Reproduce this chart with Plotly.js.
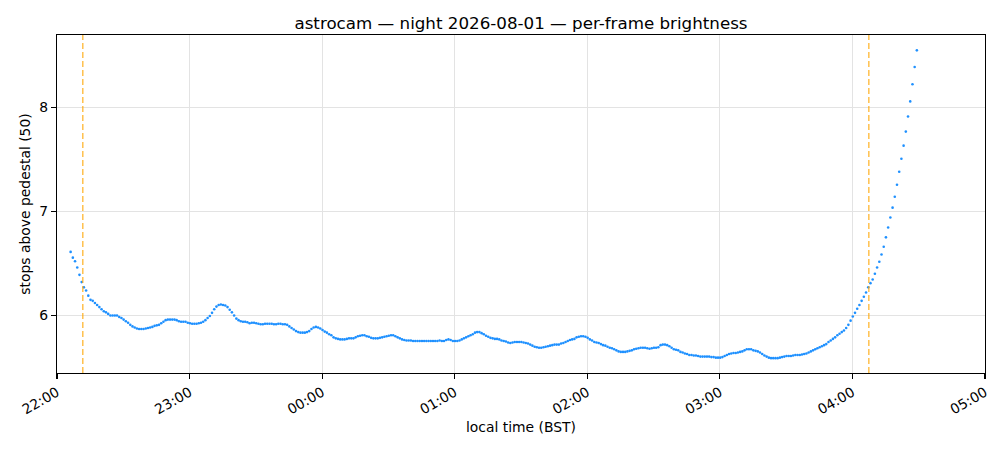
<!DOCTYPE html>
<html>
<head>
<meta charset="utf-8">
<script src="https://cdn.plot.ly/plotly-3.0.1.min.js"></script>
<style>
  html, body { margin: 0; padding: 0; background: #fff; }
  #chart { width: 1000px; height: 450px; }
</style>
</head>
<body>
<div id="chart"></div>
<script>
// astrocam per-frame brightness, one frame per minute
var firstFrame = '2026-08-01 22:06:10'
var frameStepSec = 60

// stops above pedestal
var stops = [
  6.61, 6.555, 6.52, 6.46, 6.39, 6.32, 6.27, 6.24, 6.19, 6.15,
  6.14, 6.12, 6.10, 6.08, 6.06, 6.04, 6.03, 6.015, 6.00, 6.00,
  6.00, 6.00, 5.985, 5.975, 5.96, 5.945, 5.93, 5.91, 5.895, 5.885,
  5.875, 5.87, 5.87, 5.87, 5.875, 5.88, 5.885, 5.89, 5.90, 5.905,
  5.91, 5.925, 5.94, 5.955, 5.96, 5.96, 5.96, 5.96, 5.955, 5.945,
  5.94, 5.94, 5.94, 5.93, 5.925, 5.92, 5.92, 5.92, 5.925, 5.93,
  5.94, 5.955, 5.975, 5.995, 6.025, 6.06, 6.085, 6.10, 6.105, 6.10,
  6.095, 6.08, 6.055, 6.03, 6.00, 5.97, 5.955, 5.945, 5.94, 5.94,
  5.935, 5.925, 5.93, 5.93, 5.925, 5.92, 5.915, 5.915, 5.92, 5.92,
  5.92, 5.92, 5.915, 5.915, 5.92, 5.92, 5.915, 5.915, 5.91, 5.895,
  5.88, 5.865, 5.85, 5.84, 5.835, 5.835, 5.835, 5.84, 5.85, 5.87,
  5.885, 5.89, 5.885, 5.875, 5.86, 5.845, 5.835, 5.82, 5.81, 5.79,
  5.78, 5.775, 5.77, 5.77, 5.77, 5.775, 5.78, 5.78, 5.78, 5.79,
  5.80, 5.805, 5.81, 5.81, 5.80, 5.795, 5.785, 5.78, 5.78, 5.78,
  5.785, 5.79, 5.795, 5.80, 5.805, 5.81, 5.81, 5.80, 5.79, 5.78,
  5.77, 5.765, 5.76, 5.76, 5.76, 5.755, 5.755, 5.755, 5.755, 5.755,
  5.755, 5.755, 5.755, 5.755, 5.755, 5.755, 5.755, 5.76, 5.755, 5.755,
  5.765, 5.77, 5.765, 5.755, 5.755, 5.755, 5.76, 5.77, 5.78, 5.79,
  5.80, 5.81, 5.82, 5.835, 5.84, 5.84, 5.83, 5.82, 5.805, 5.795,
  5.785, 5.78, 5.775, 5.775, 5.77, 5.76, 5.755, 5.75, 5.74, 5.735,
  5.74, 5.745, 5.745, 5.745, 5.745, 5.74, 5.735, 5.73, 5.72, 5.71,
  5.70, 5.695, 5.69, 5.69, 5.695, 5.70, 5.705, 5.71, 5.715, 5.72,
  5.72, 5.72, 5.73, 5.735, 5.745, 5.755, 5.765, 5.77, 5.775, 5.79,
  5.795, 5.80, 5.80, 5.795, 5.785, 5.77, 5.76, 5.745, 5.74, 5.735,
  5.725, 5.715, 5.71, 5.70, 5.69, 5.685, 5.675, 5.665, 5.655, 5.65,
  5.65, 5.65, 5.655, 5.66, 5.665, 5.675, 5.68, 5.685, 5.69, 5.69,
  5.69, 5.685, 5.68, 5.685, 5.69, 5.69, 5.695, 5.715, 5.72, 5.72,
  5.715, 5.705, 5.69, 5.675, 5.67, 5.665, 5.65, 5.645, 5.635, 5.63,
  5.62, 5.62, 5.615, 5.615, 5.61, 5.605, 5.605, 5.605, 5.605, 5.605,
  5.60, 5.60, 5.595, 5.595, 5.595, 5.60, 5.61, 5.62, 5.63, 5.635,
  5.64, 5.64, 5.645, 5.65, 5.655, 5.665, 5.675, 5.675, 5.675, 5.665,
  5.66, 5.655, 5.645, 5.63, 5.615, 5.605, 5.595, 5.59, 5.59, 5.59,
  5.59, 5.595, 5.60, 5.605, 5.61, 5.61, 5.61, 5.615, 5.62, 5.62,
  5.62, 5.625, 5.63, 5.635, 5.645, 5.655, 5.665, 5.675, 5.685, 5.695,
  5.705, 5.715, 5.725, 5.745, 5.76, 5.775,
  5.79, 5.81, 5.825, 5.84, 5.855, 5.88,
  5.91, 5.95, 5.99, 6.025, 6.065, 6.10, 6.14, 6.18, 6.22, 6.27,
  6.31, 6.345, 6.40, 6.46, 6.515, 6.585, 6.66, 6.75, 6.845, 6.94,
  7.035, 7.14, 7.255, 7.38, 7.505, 7.63, 7.765, 7.91, 8.055, 8.22,
  8.385, 8.545
]

// twilight markers (dashed orange)
var markerTimes = ['2026-08-01 22:11:40', '2026-08-02 04:07:25']

var xRange = ['2026-08-01 22:00', '2026-08-02 05:00']
var yTicks = [6, 7, 8]

//Build frame timestamps
function fmt(d){
    let p = n => String(n).padStart(2, '0')
    return d.getFullYear() + '-' + p(d.getMonth() + 1) + '-' + p(d.getDate()) + ' ' +
        p(d.getHours()) + ':' + p(d.getMinutes()) + ':' + p(d.getSeconds())
}
var t0 = new Date(firstFrame.replace(' ', 'T'))
var times = []
for(let i = 0; i < stops.length; i++){
    times.push(fmt(new Date(t0.getTime() + i * frameStepSec * 1000)))
}

var frames = {
    x: times,
    y: stops,
    mode: 'markers',
    type: 'scatter',
    showlegend: false,
    marker: { color: '#1e90ff', size: 2.6 },
    hoverinfo: 'x+y'
}

var shapes = markerTimes.map(t => ({
    type: 'line', xref: 'x', yref: 'paper',
    x0: t, x1: t, y0: 0, y1: 1,
    line: { color: 'rgba(255,165,0,0.7)', width: 1.5, dash: '6px,3px' }
}))

var font = { family: 'DejaVu Sans, sans-serif', size: 13.9, color: '#000' }

var layout = {
    width: 1000,
    height: 450,
    margin: { l: 57, r: 15, t: 35, b: 77 },
    paper_bgcolor: '#fff',
    plot_bgcolor: '#fff',
    font: font,
    title: {
        text: 'astrocam — night 2026-08-01 — per-frame brightness',
        font: { family: 'DejaVu Sans, sans-serif', size: 16.7, color: '#000' },
        x: 0.5, xref: 'paper', y: 1, yref: 'paper', yanchor: 'bottom', pad: { b: 6 }
    },
    xaxis: {
        type: 'date',
        range: xRange,
        dtick: 3600000,
        tick0: xRange[0],
        tickformat: '%H:%M',
        tickangle: -30,
        ticks: 'outside', ticklen: 5, tickwidth: 1.1, tickcolor: '#000',
        showline: true, linecolor: '#000', linewidth: 1.1, mirror: true,
        showgrid: true, gridcolor: '#e3e3e3', gridwidth: 1,
        zeroline: false,
        title: { text: 'local time (BST)', font: font, standoff: 5 }
    },
    yaxis: {
        range: [5.4475, 8.6925],
        tickvals: yTicks,
        ticks: 'outside', ticklen: 5, tickwidth: 1.1, tickcolor: '#000',
        showline: true, linecolor: '#000', linewidth: 1.1, mirror: true,
        showgrid: true, gridcolor: '#e3e3e3', gridwidth: 1,
        zeroline: false,
        title: { text: 'stops above pedestal (50)', font: font, standoff: 5 }
    },
    shapes: shapes
}

Plotly.newPlot('chart', [frames], layout, { displayModeBar: false, staticPlot: true })
</script>
</body>
</html>
